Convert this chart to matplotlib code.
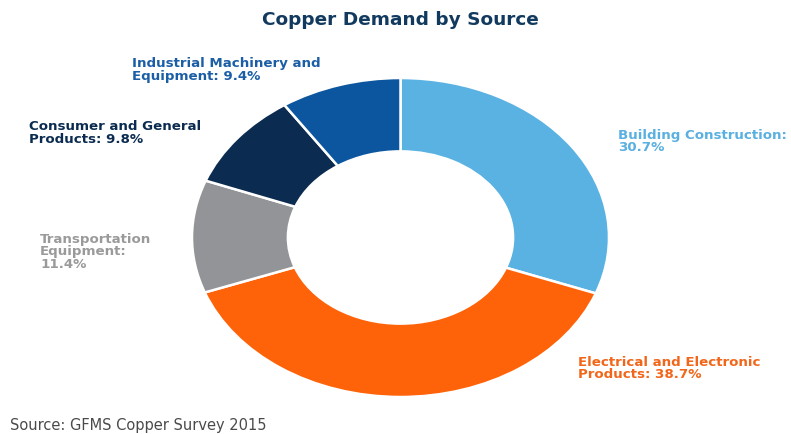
import matplotlib.pyplot as plt

# data
sources = ['Building Construction', 'Electrical and Electronic Products',
           'Transportation Equipment', 'Consumer and General Products',
           'Industrial Machinery and Equipment']
shares = [30.7, 38.7, 11.4, 9.8, 9.4]
label_texts = ['Building Construction:\n30.7%',
               'Electrical and Electronic\nProducts: 38.7%',
               'Transportation\nEquipment:\n11.4%',
               'Consumer and General\nProducts: 9.8%',
               'Industrial Machinery and\nEquipment: 9.4%']
colors = ['#5AB2E3', '#FF6309', '#939497', '#0B2C50', '#0C56A0']
label_colors = ['#5AB0E0', '#F2661A', '#9A9A9C', '#0B2C50', '#1B5EA6']

W, H = 791, 434
plt.rcParams['font.family'] = ['DejaVu Sans']
fig = plt.figure(figsize=(W / 100, H / 100), dpi=100)

# axes box in pixels (left, top, right, bottom) -> stretched donut like the source
l, t, r, b = 192, 78, 609, 397
ax = fig.add_axes([l / W, 1 - b / H, (r - l) / W, (b - t) / H])
ax.pie(shares, colors=colors, startangle=90, counterclock=False,
       radius=1.0, wedgeprops=dict(width=0.46, edgecolor='white', linewidth=1.8))
ax.set_aspect('auto')
ax.set_xlim(-1, 1)
ax.set_ylim(-1, 1)
ax.axis('off')

def px(x, y):
    return x / W, 1 - y / H

fig.text(*px(400, 25), 'Copper Demand by Source', ha='center', va='baseline',
         fontsize=13.3, fontweight='bold', color='#123A5E')

# last-line baseline of each label (pixels)
label_pos = [(618, 151), (578, 378), (40, 268), (29, 143), (132, 80)]
for txt, (x, y), c in zip(label_texts, label_pos, label_colors):
    fig.text(*px(x, y), txt, ha='left', va='baseline', fontsize=9.6,
             fontweight='bold', color=c, linespacing=0.95)

fig.text(*px(10, 430), 'Source: GFMS Copper Survey 2015', ha='left',
         va='baseline', fontsize=10.5, color='#4A4A4A')

fig.savefig('out.png', dpi=100)
